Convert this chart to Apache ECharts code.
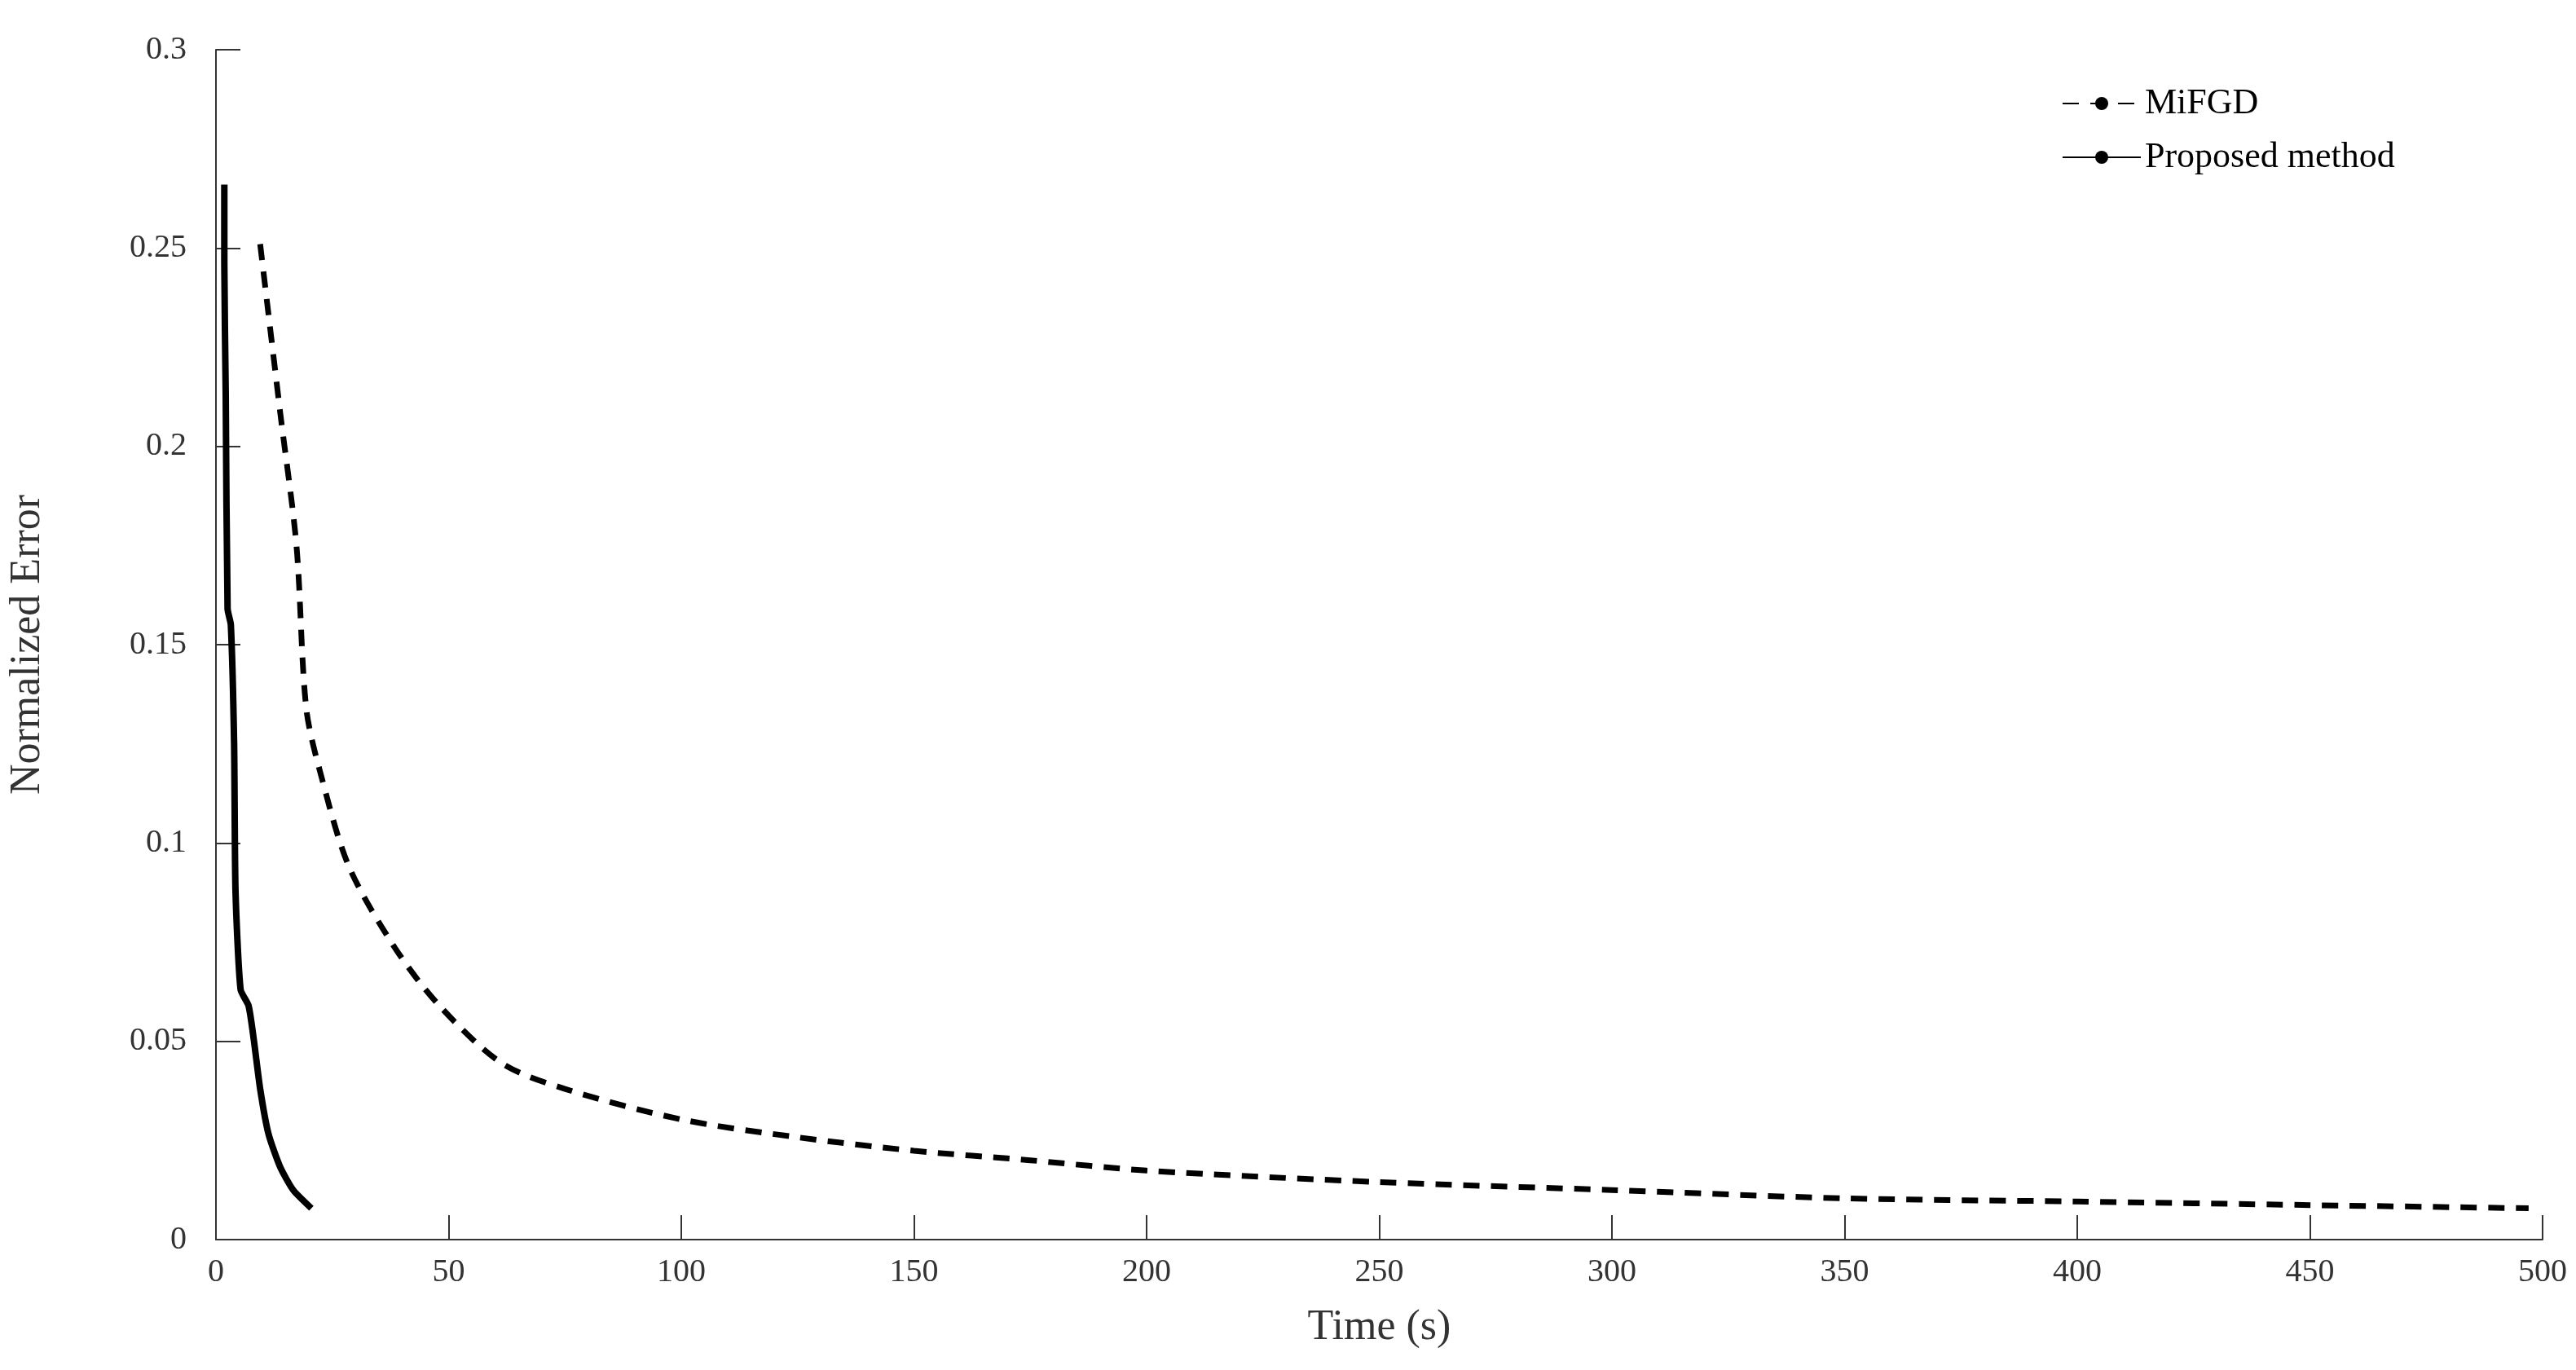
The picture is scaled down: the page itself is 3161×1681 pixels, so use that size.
<!DOCTYPE html>
<html>
<head>
<meta charset="utf-8">
<script src="https://cdn.jsdelivr.net/npm/echarts@6/dist/echarts.min.js"></script>
<style>html,body{margin:0;padding:0;background:#fff}#chart{width:3161px;height:1681px}</style>
</head>
<body>
<div id="chart"></div>
<script>
const mifgdTime = [9.5, 13.8, 17.3, 19.4, 22.6, 28.6, 38.5, 48, 61.4, 75, 100, 125, 150, 175, 200, 250, 300, 350, 400, 450, 497];
const mifgdError = [0.251, 0.2086, 0.175, 0.134, 0.117, 0.094, 0.0735, 0.059, 0.0445, 0.038, 0.0303, 0.0258, 0.0224, 0.020, 0.0174, 0.0145, 0.0125, 0.0104, 0.0096, 0.0087, 0.0079];
const proposedTime = [1.8, 1.8, 2.1, 2.5, 3.2, 3.9, 4.2, 5.3, 7, 8.1, 9.5, 11.3, 13.8, 16.6, 20.5];
const proposedError = [0.266, 0.246, 0.213, 0.159, 0.155, 0.125, 0.088, 0.063, 0.059, 0.0507, 0.038, 0.0266, 0.0183, 0.0125, 0.0079];
const xTicks = [0, 50, 100, 150, 200, 250, 300, 350, 400, 450, 500];

const zip = (a, b) => a.map((v, i) => [v, b[i]]);
const font = "Liberation Serif";
const chart = echarts.init(document.getElementById("chart"));
chart.setOption({
  animation: false,
  textStyle: { fontFamily: font },
  grid: { left: 255, right: 41, top: 61, bottom: 160 },
  legend: {
    orient: "vertical",
    left: 2525,
    top: 100,
    itemWidth: 96,
    itemHeight: 20,
    itemGap: 22,
    textStyle: { fontFamily: font, fontSize: 44, color: "#000" },
    data: ["MiFGD", "Proposed method"]
  },
  xAxis: {
    type: "value",
    min: 0,
    max: 500,
    interval: 50,
    name: "Time (s)",
    nameLocation: "middle",
    nameGap: 82,
    nameTextStyle: { fontFamily: font, fontSize: 52, color: "#333" },
    axisLine: { lineStyle: { color: "#333", width: 2 } },
    axisTick: { inside: true, length: 30, lineStyle: { color: "#333", width: 2 } },
    axisLabel: { fontSize: 40, color: "#333", margin: 20, formatter: v => xTicks.includes(v) ? String(v) : "" },
    splitLine: { show: false }
  },
  yAxis: {
    type: "value",
    min: 0,
    max: 0.3,
    interval: 0.05,
    name: "Normalized Error",
    nameLocation: "middle",
    nameGap: 205,
    nameTextStyle: { fontFamily: font, fontSize: 52, color: "#333" },
    axisLine: { lineStyle: { color: "#333", width: 2 } },
    axisTick: { inside: true, length: 30, lineStyle: { color: "#333", width: 2 } },
    axisLabel: { fontSize: 40, color: "#333", margin: 36, formatter: v => String(+v.toFixed(2)) },
    splitLine: { show: false }
  },
  series: [
    {
      name: "MiFGD",
      type: "line",
      smooth: 0.3,
      symbol: "none",
      color: "#000",
      lineStyle: { color: "#000", width: 7, type: [20, 14] },
      data: zip(mifgdTime, mifgdError)
    },
    {
      name: "Proposed method",
      type: "line",
      smooth: 0.2,
      symbol: "none",
      color: "#000",
      lineStyle: { color: "#000", width: 8 },
      data: zip(proposedTime, proposedError)
    }
  ]
});
</script>
</body>
</html>
